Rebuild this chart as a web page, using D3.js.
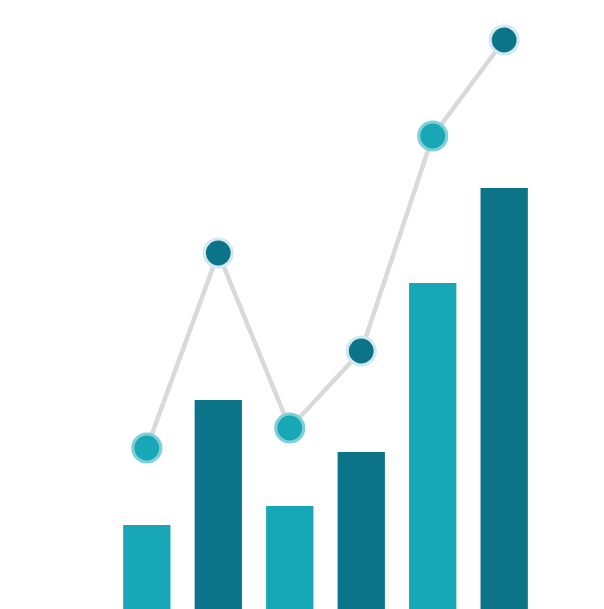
<!DOCTYPE html>
<html>
<head>
<meta charset="utf-8">
<script src="https://cdn.jsdelivr.net/npm/d3@7"></script>
<style>
  html, body { margin: 0; padding: 0; background: #fff; }
  svg { display: block; }
</style>
</head>
<body>
<svg id="svg" width="604" height="609"></svg>
<script>
// データ
const categories = ["A", "B", "C", "D", "E", "F"];
const barValues = [84, 209, 103, 157, 326, 421];
const lineValues = [161, 356, 181, 258, 473, 569];
const tones = ["light", "dark", "light", "dark", "light", "dark"];

const W = 604;
const H = 609;

const colors = {
  light: { fill: "#18a7b6", halo: "#7ecfd7" },
  dark: { fill: "#0c7489", halo: "#d2e9ef" },
};

const svg = d3.select("#svg");

// 縦軸（1単位=1px）
const y = d3.scaleLinear().domain([0, 600]).range([H, H - 600]);

// 横軸
const x = d3
  .scaleBand()
  .domain(categories)
  .range([99, 552])
  .paddingInner(0.338)
  .paddingOuter(0.338);

// 棒の中心
const cx = (d) => x(d) + x.bandwidth() / 2;

// 棒
svg
  .append("g")
  .selectAll("rect")
  .data(categories)
  .join("rect")
  .attr("x", (d) => x(d))
  .attr("y", (d, i) => y(barValues[i]))
  .attr("width", x.bandwidth())
  .attr("height", (d, i) => y(0) - y(barValues[i]))
  .attr("fill", (d, i) => colors[tones[i]].fill);

// 折れ線
const line = d3
  .line()
  .x((d, i) => cx(categories[i]))
  .y((d) => y(d));

svg
  .append("path")
  .datum(lineValues)
  .attr("d", line)
  .attr("fill", "none")
  .attr("stroke", "#d9d9d9")
  .attr("stroke-width", 4.5);

// 点
svg
  .append("g")
  .selectAll("circle")
  .data(lineValues)
  .join("circle")
  .attr("cx", (d, i) => cx(categories[i]))
  .attr("cy", (d) => y(d))
  .attr("r", 14)
  .attr("fill", (d, i) => colors[tones[i]].fill)
  .attr("stroke", (d, i) => colors[tones[i]].halo)
  .attr("stroke-width", 3.2);
</script>
</body>
</html>
